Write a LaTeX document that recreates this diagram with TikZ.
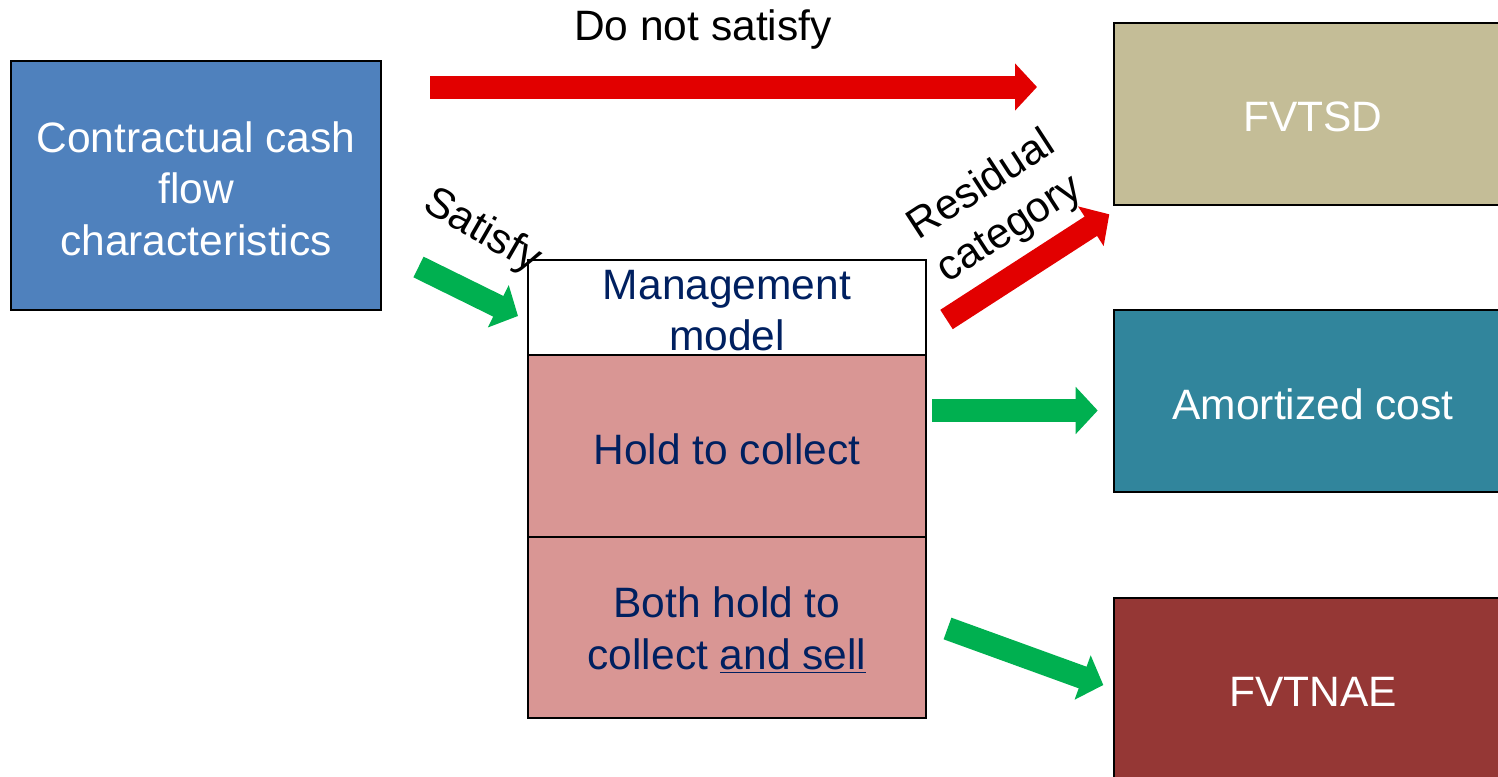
\documentclass[tikz,border=0pt]{standalone}
\usepackage{fontspec}
\setmainfont{Liberation Sans}
\usetikzlibrary{arrows.meta}
\definecolor{cfblue}{HTML}{4F81BD}
\definecolor{mgmtpink}{HTML}{D99694}
\definecolor{fvtsdtan}{HTML}{C4BD97}
\definecolor{amteal}{HTML}{31859C}
\definecolor{fvtnaered}{HTML}{953735}
\definecolor{navytext}{HTML}{002060}
\definecolor{arrred}{HTML}{E20000}
\definecolor{arrgreen}{HTML}{00B050}
\begin{document}
\begin{tikzpicture}[x=0.5pt,y=-0.5pt,
  lbl/.style={font=\fontsize{21.25}{25.75}\selectfont, align=center, inner sep=0pt},
  box/.style={lbl, draw=black, line width=0.75pt, minimum width=199pt, minimum height=91pt},
  boxtext/.style={lbl, yshift=-1.5pt},
  blockarrow/.style={line width=11.5pt, line cap=butt,
    -{Triangle[width=23pt,length=11pt]}},
  redarrow/.style={blockarrow, draw=arrred, color=arrred},
  greenarrow/.style={blockarrow, draw=arrgreen, color=arrgreen}]
\useasboundingbox (0,0) rectangle (1498,776);

% source box
\node[box, fill=cfblue, minimum width=185pt, minimum height=124.5pt]
  (ccf) at (196,185.5) {};
\node[boxtext, text=white] (ccft) at (ccf) {Contractual cash\\flow\\characteristics};

% business model stack
\node[box, fill=white, minimum height=47.5pt] (mgmt) at (727,307.5) {};
\node[box, fill=mgmtpink] (htc) at (727,446) {};
\node[box, fill=mgmtpink, minimum height=90.5pt] (both) at (727,627.5) {};
\node[boxtext, text=navytext] (mgmtt) at (mgmt) {Management\\model};
\node[boxtext, text=navytext] (htct) at (htc) {Hold to collect};
\node[boxtext, text=navytext] (botht) at (both) {Both hold to\\collect \underline{and sell}};

% measurement categories
\node[box, fill=fvtsdtan] (fvtsd) at (1313,114) {};
\node[box, fill=amteal] (amc) at (1313,401) {};
\node[box, fill=fvtnaered] (fvtnae) at (1313,689) {};
\node[boxtext, text=white] (fvtsdt) at (fvtsd) {FVTSD};
\node[boxtext, text=white] (amct) at (amc) {Amortized cost};
\node[boxtext, text=white] (fvtnaet) at (fvtnae) {FVTNAE};

% arrow end points
\coordinate (dns-s) at (430,87);
\coordinate (dns-e) at (1037,87);
\coordinate (sat-s) at (418.5,267);
\coordinate (sat-e) at (518,316);
\coordinate (res-s) at (946.5,319.5);
\coordinate (res-e) at (1109.3,214.3);
\coordinate (amc-s) at (932,410.5);
\coordinate (amc-e) at (1097.7,410.5);
\coordinate (nae-s) at (947.5,628.5);
\coordinate (nae-e) at (1103.3,685);

\draw[redarrow] (dns-s) -- (dns-e);
\draw[greenarrow] (sat-s) -- (sat-e);
\draw[redarrow] (res-s) -- (res-e);
\draw[greenarrow] (amc-s) -- (amc-e);
\draw[greenarrow] (nae-s) -- (nae-e);

% arrow labels
\node[lbl] (dnslbl) at (703,30) {Do not satisfy};
\node[lbl, rotate=-30] (satlbl) at (482,232) {Satisfy};
\node[lbl, rotate=33] (reslbl) at (996,208) {Residual\\category};
\end{tikzpicture}
\end{document}
